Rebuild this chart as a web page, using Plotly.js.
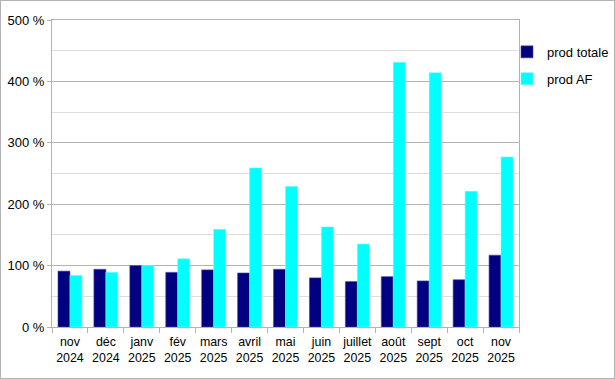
<!DOCTYPE html>
<html>
<head>
<meta charset="utf-8">
<script src="https://cdn.plot.ly/plotly-3.0.1.min.js"></script>
<style>
html,body{margin:0;padding:0;background:#fff;}
#chart{width:613px;height:377px;border:1px solid #b3b3b3;}
</style>
</head>
<body>
<div id="chart"></div>
<script>
const categories = ["nov<br>2024","déc<br>2024","janv<br>2025","fév<br>2025","mars<br>2025","avril<br>2025","mai<br>2025","juin<br>2025","juillet<br>2025","août<br>2025","sept<br>2025","oct<br>2025","nov<br>2025"];
const prodTotale = [91, 94, 100, 89, 93, 88, 94, 80, 74, 82, 75, 77, 117];
const prodAF = [84, 89, 100, 111, 159, 259, 229, 163, 135, 431, 414, 221, 277];
const seriesNames = ["prod totale", "prod AF"];

const font = {family: "Liberation Sans, Arial, sans-serif", size: 13, color: "#000"};
const xfont = {family: "Liberation Sans, Arial, sans-serif", size: 12.4, color: "#000"};

const traces = [
  {type: "bar", name: seriesNames[0], x: categories, y: prodTotale,
   marker: {color: "#000080", line: {color: "#4a4aa8", width: 0.6}},
   legendgroup: "a", hoverinfo: "skip"},
  {type: "bar", name: seriesNames[1], x: categories, y: prodAF,
   marker: {color: "#00ffff", line: {color: "#66ffff", width: 0.6}},
   legendgroup: "b", hoverinfo: "skip"}
];

const layout = {
  width: 613, height: 377,
  margin: {l: 51, r: 95, t: 18.5, b: 51.3, pad: 0, autoexpand: false},
  paper_bgcolor: "#fff", plot_bgcolor: "#fff",
  font: font,
  showlegend: true,
  barmode: "group",
  bargap: 0.333, bargroupgap: 0,
  legend: {xref: "paper", yref: "paper", x: 0.9743, xanchor: "left", y: 0.945, yanchor: "top", font: font,
           traceorder: "grouped", tracegroupgap: 7, bgcolor: "rgba(0,0,0,0)"},
  xaxis: {
    type: "category", tickson: "boundaries", tickangle: 0,
    ticks: "outside", ticklen: 5, tickcolor: "#b3b3b3", tickwidth: 1,
    ticklabelstandoff: 3,
    showline: true, linecolor: "#b3b3b3", linewidth: 1, mirror: true,
    showgrid: false, tickfont: xfont, zeroline: false, automargin: false
  },
  yaxis: {
    range: [0, 500], dtick: 100, ticksuffix: " %",
    ticks: "outside", ticklen: 4, tickcolor: "#b3b3b3",
    showline: true, linecolor: "#b3b3b3", linewidth: 1, mirror: true,
    showgrid: true, gridcolor: "#b3b3b3", gridwidth: 1,
    minor: {dtick: 50, showgrid: true, gridcolor: "#dddddd", ticks: ""},
    zeroline: false, tickfont: font, automargin: false
  }
};

Plotly.newPlot("chart", traces, layout, {displayModeBar: false, staticPlot: true});
</script>
</body>
</html>
